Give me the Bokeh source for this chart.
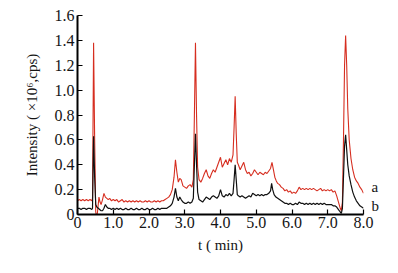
from bokeh.plotting import figure
from bokeh.models import Range1d, FixedTicker, LinearAxis
from bokeh.embed import file_html
from bokeh.resources import INLINE

# ---- data ----
t_a = [0.00, 0.05, 0.10, 0.15, 0.20, 0.25, 0.30, 0.35, 0.40, 0.42, 0.45, 0.48, 0.51, 0.54, 0.57,
       0.60, 0.63, 0.66, 0.70, 0.74, 0.78, 0.82, 0.86, 0.90, 0.95, 1.00, 1.05, 1.10, 1.15, 1.20,
       1.25, 1.30, 1.35, 1.40, 1.45, 1.50, 1.55, 1.60, 1.65, 1.70, 1.75, 1.80, 1.85, 1.90, 1.95,
       2.00, 2.05, 2.10, 2.15, 2.20, 2.25, 2.30, 2.35, 2.40, 2.45, 2.50, 2.55, 2.60, 2.65, 2.70,
       2.74, 2.78, 2.82, 2.86, 2.90, 2.95, 3.00, 3.05, 3.10, 3.15, 3.20, 3.24, 3.27, 3.30, 3.33,
       3.36, 3.40, 3.45, 3.50, 3.55, 3.60, 3.65, 3.70, 3.75, 3.80, 3.85, 3.90, 3.95, 4.00, 4.05,
       4.10, 4.15, 4.20, 4.25, 4.30, 4.35, 4.38, 4.41, 4.44, 4.47, 4.50, 4.55, 4.60, 4.65, 4.70,
       4.75, 4.80, 4.85, 4.90, 4.95, 5.00, 5.05, 5.10, 5.15, 5.20, 5.25, 5.30, 5.35, 5.40, 5.44,
       5.48, 5.52, 5.56, 5.60, 5.65, 5.70, 5.75, 5.80, 5.85, 5.90, 5.95, 6.00, 6.05, 6.10, 6.15,
       6.20, 6.25, 6.30, 6.35, 6.40, 6.45, 6.50, 6.55, 6.60, 6.65, 6.70, 6.75, 6.80, 6.85, 6.90,
       6.95, 7.00, 7.05, 7.10, 7.15, 7.20, 7.25, 7.30, 7.35, 7.38, 7.41, 7.44, 7.47, 7.50, 7.53,
       7.56, 7.60, 7.65, 7.70, 7.75, 7.80, 7.85, 7.90, 7.95, 8.00]
y_a = [0.11, 0.12, 0.11, 0.12, 0.11, 0.12, 0.11, 0.12, 0.11, 0.13, 1.38, 0.60, 0.02, -0.03, 0.05,
       0.14, 0.10, 0.08, 0.12, 0.17, 0.14, 0.13, 0.12, 0.13, 0.11, 0.12, 0.11, 0.12, 0.10, 0.11,
       0.12, 0.10, 0.11, 0.10, 0.11, 0.10, 0.11, 0.10, 0.11, 0.10, 0.11, 0.10, 0.10, 0.11, 0.10,
       0.11, 0.10, 0.10, 0.11, 0.10, 0.11, 0.10, 0.11, 0.11, 0.12, 0.13, 0.14, 0.16, 0.20, 0.30,
       0.44, 0.34, 0.26, 0.29, 0.28, 0.23, 0.22, 0.21, 0.23, 0.24, 0.22, 0.28, 0.80, 1.38, 0.80,
       0.38, 0.28, 0.26, 0.29, 0.33, 0.36, 0.31, 0.29, 0.33, 0.36, 0.34, 0.38, 0.42, 0.46, 0.38,
       0.41, 0.44, 0.40, 0.45, 0.42, 0.48, 0.70, 0.95, 0.65, 0.42, 0.40, 0.36, 0.39, 0.42, 0.36,
       0.33, 0.34, 0.31, 0.33, 0.36, 0.34, 0.32, 0.34, 0.33, 0.32, 0.34, 0.33, 0.35, 0.37, 0.42,
       0.36, 0.30, 0.27, 0.25, 0.24, 0.22, 0.21, 0.19, 0.20, 0.18, 0.19, 0.17, 0.18, 0.17, 0.19,
       0.22, 0.20, 0.21, 0.20, 0.21, 0.20, 0.21, 0.20, 0.21, 0.20, 0.19, 0.20, 0.21, 0.19, 0.20,
       0.19, 0.20, 0.19, 0.20, 0.18, 0.19, 0.15, 0.10, 0.05, 0.03, 0.10, 0.60, 1.20, 1.44, 1.20,
       0.85, 0.60, 0.45, 0.36, 0.30, 0.27, 0.25, 0.22, 0.20, 0.17]

t_b = [0.00, 0.05, 0.10, 0.15, 0.20, 0.25, 0.30, 0.35, 0.40, 0.42, 0.45, 0.48, 0.51, 0.54, 0.58,
       0.62, 0.66, 0.70, 0.74, 0.78, 0.82, 0.86, 0.90, 0.95, 1.00, 1.05, 1.10, 1.15, 1.20, 1.25,
       1.30, 1.35, 1.40, 1.45, 1.50, 1.55, 1.60, 1.65, 1.70, 1.75, 1.80, 1.85, 1.90, 1.95, 2.00,
       2.05, 2.10, 2.15, 2.20, 2.25, 2.30, 2.35, 2.40, 2.45, 2.50, 2.55, 2.60, 2.65, 2.70, 2.74,
       2.78, 2.82, 2.86, 2.90, 2.95, 3.00, 3.05, 3.10, 3.15, 3.20, 3.24, 3.27, 3.30, 3.33, 3.36,
       3.40, 3.45, 3.50, 3.55, 3.60, 3.65, 3.70, 3.75, 3.80, 3.85, 3.90, 3.95, 4.00, 4.05, 4.10,
       4.15, 4.20, 4.25, 4.30, 4.35, 4.38, 4.41, 4.44, 4.47, 4.50, 4.55, 4.60, 4.65, 4.70, 4.75,
       4.80, 4.85, 4.90, 4.95, 5.00, 5.05, 5.10, 5.15, 5.20, 5.25, 5.30, 5.35, 5.40, 5.43, 5.46,
       5.50, 5.55, 5.60, 5.65, 5.70, 5.75, 5.80, 5.85, 5.90, 5.95, 6.00, 6.05, 6.10, 6.15, 6.20,
       6.25, 6.30, 6.35, 6.40, 6.45, 6.50, 6.55, 6.60, 6.65, 6.70, 6.75, 6.80, 6.85, 6.90, 6.95,
       7.00, 7.05, 7.10, 7.15, 7.20, 7.25, 7.30, 7.35, 7.38, 7.41, 7.44, 7.47, 7.50, 7.53, 7.56,
       7.60, 7.65, 7.70, 7.75, 7.80, 7.85, 7.90, 7.95, 8.00]
y_b = [0.05, 0.05, 0.04, 0.05, 0.05, 0.04, 0.05, 0.05, 0.04, 0.05, 0.63, 0.30, 0.08, 0.06, 0.05,
       0.04, 0.03, 0.03, 0.05, 0.08, 0.06, 0.05, 0.05, 0.04, 0.05, 0.04, 0.05, 0.04, 0.05, 0.04,
       0.04, 0.05, 0.04, 0.04, 0.05, 0.04, 0.04, 0.05, 0.04, 0.04, 0.05, 0.04, 0.04, 0.05, 0.04,
       0.04, 0.05, 0.04, 0.04, 0.05, 0.04, 0.05, 0.05, 0.05, 0.05, 0.06, 0.07, 0.09, 0.14, 0.21,
       0.14, 0.11, 0.14, 0.12, 0.10, 0.09, 0.09, 0.10, 0.09, 0.10, 0.13, 0.40, 0.65, 0.40, 0.18,
       0.12, 0.11, 0.10, 0.12, 0.14, 0.13, 0.12, 0.14, 0.15, 0.14, 0.13, 0.15, 0.20, 0.15, 0.14,
       0.16, 0.15, 0.17, 0.15, 0.17, 0.28, 0.40, 0.28, 0.16, 0.15, 0.14, 0.15, 0.14, 0.13, 0.14,
       0.15, 0.14, 0.17, 0.16, 0.15, 0.16, 0.15, 0.16, 0.15, 0.16, 0.16, 0.17, 0.19, 0.25, 0.20,
       0.16, 0.14, 0.13, 0.12, 0.11, 0.10, 0.09, 0.09, 0.08, 0.09, 0.08, 0.08, 0.09, 0.08, 0.10,
       0.09, 0.09, 0.08, 0.09, 0.08, 0.09, 0.08, 0.09, 0.08, 0.09, 0.08, 0.09, 0.08, 0.09, 0.08,
       0.08, 0.08, 0.08, 0.07, 0.07, 0.06, 0.04, 0.02, 0.01, 0.05, 0.30, 0.55, 0.64, 0.52, 0.40,
       0.31, 0.24, 0.18, 0.14, 0.11, 0.09, 0.07, 0.06, 0.05]

x_ticks = [0, 1, 2, 3, 4, 5, 6, 7, 8]
x_tick_labels = ["0", "1.0", "2.0", "3.0", "4.0", "5.0", "6.0", "7.0", "8.0"]
y_ticks = [0, 0.2, 0.4, 0.6, 0.8, 1.0, 1.2, 1.4, 1.6]
y_tick_labels = ["0", "0.2", "0.4", "0.6", "0.8", "1.0", "1.2", "1.4", "1.6"]
series_names = ["a", "b"]
series_label_y = [0.22, 0.07]   # heights at which the curve names sit, right of the end

FONT = "Liberation Serif"
TXT = "#151515"

p = figure(width=382, height=262, output_backend="svg", toolbar_location=None,
           x_range=Range1d(0, 8), y_range=Range1d(0, 1.6))
p.min_border_left = 77
p.min_border_right = 14
p.min_border_top = 15
p.min_border_bottom = 48
p.outline_line_color = None
p.xgrid.visible = False
p.ygrid.visible = False
p.background_fill_color = "white"

p.line(t_a, y_a, line_color="#d62e20", line_width=1.1)
p.line(t_b, y_b, line_color="#111111", line_width=1.2)

for ax in (p.xaxis[0], p.yaxis[0]):
    ax.axis_line_width = 2
    ax.axis_line_color = "black"
    ax.major_tick_line_width = 1.2
    ax.major_tick_line_color = "black"
    ax.major_tick_in = 5
    ax.major_tick_out = 0
    ax.minor_tick_line_color = None
    ax.major_label_text_font = FONT
    ax.major_label_text_font_size = "16px"
    ax.major_label_text_color = TXT
    ax.axis_label_text_font = FONT
    ax.axis_label_text_font_style = "normal"
    ax.axis_label_text_font_size = "15px"
    ax.axis_label_text_color = TXT

p.xaxis.ticker = FixedTicker(ticks=x_ticks)
p.xaxis.major_label_overrides = {k: v for k, v in zip(x_ticks, x_tick_labels)}
p.xaxis.major_label_standoff = 2
p.xaxis.axis_label = "t ( min)"
p.xaxis.axis_label_standoff = 6

p.yaxis.ticker = FixedTicker(ticks=y_ticks)
p.yaxis.major_label_overrides = {k: v for k, v in zip(y_ticks, y_tick_labels)}
p.yaxis.major_label_standoff = 3
p.yaxis.axis_label = "Intensity ( \u00d710\u2076,cps)"
p.yaxis.axis_label_standoff = 12

# curve names "a" / "b" on the right, as labels of an invisible right axis
name_axis = LinearAxis(ticker=FixedTicker(ticks=series_label_y),
                       major_label_overrides={k: v for k, v in zip(series_label_y, series_names)},
                       axis_line_color=None, major_tick_line_color=None,
                       minor_tick_line_color=None, major_label_standoff=2,
                       major_label_text_font=FONT, major_label_text_font_size="15px",
                       major_label_text_color=TXT)
p.add_layout(name_axis, "right")

open("out.html", "w").write(file_html(p, INLINE))
